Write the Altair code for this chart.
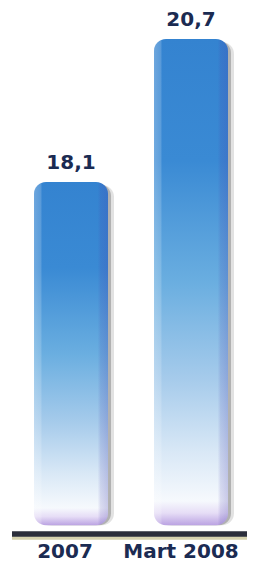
import altair as alt
import pandas as pd

categories = ["2007", "Mart 2008"]
values = [18.1, 20.7]
value_labels = ["18,1", "20,7"]

H = 556
W = 239
AXIS_MAX = 21.264
AXIS_MIN = 20.7 - (H - 31) / 55.0
BAR_BASE = 11.86

df = pd.DataFrame({"cat": categories, "val": values, "lbl": value_labels})

xscale = alt.Scale(domain=categories, paddingInner=0.3833, paddingOuter=0.1875, align=0.578)
yscale = alt.Scale(domain=[AXIS_MIN, AXIS_MAX], zero=False, nice=False)

X = alt.X("cat:N", scale=xscale, axis=None, sort=categories)
Y = alt.Y("val:Q", scale=yscale, axis=None, stack=None)
Y2 = alt.Y2(datum=BAR_BASE)

base = alt.Chart(df)

shadow1 = base.mark_bar(cornerRadius=12, color="#333333", opacity=0.14, xOffset=6, yOffset=3).encode(
    x=X, y=Y, y2=Y2)
shadow2 = base.mark_bar(cornerRadius=12, color="#333333", opacity=0.28, xOffset=3, yOffset=2).encode(
    x=X, y=Y, y2=Y2)

grad = alt.Gradient(
    gradient="linear", x1=0, x2=0, y1=0, y2=1,
    stops=[
        alt.GradientStop(offset=0, color="#3483d0"),
        alt.GradientStop(offset=0.25, color="#3a8ad4"),
        alt.GradientStop(offset=0.5, color="#6aaee0"),
        alt.GradientStop(offset=0.7, color="#a6cbeb"),
        alt.GradientStop(offset=0.85, color="#d9e8f6"),
        alt.GradientStop(offset=0.95, color="#f6f9fd"),
        alt.GradientStop(offset=0.975, color="#e6ddf6"),
        alt.GradientStop(offset=1, color="#bba3e2"),
    ],
)
bars = base.mark_bar(cornerRadius=12, color=grad).encode(x=X, y=Y, y2=Y2)

hgrad = alt.Gradient(
    gradient="linear", x1=0, x2=1, y1=0, y2=0,
    stops=[
        alt.GradientStop(offset=0, color="rgba(255,255,255,0.28)"),
        alt.GradientStop(offset=0.09, color="rgba(255,255,255,0.18)"),
        alt.GradientStop(offset=0.11, color="rgba(255,255,255,0.0)"),
        alt.GradientStop(offset=0.86, color="rgba(70,60,170,0.0)"),
        alt.GradientStop(offset=0.9, color="rgba(70,60,170,0.15)"),
        alt.GradientStop(offset=1, color="rgba(70,60,170,0.25)"),
    ],
)
sheen = base.mark_bar(cornerRadius=12, color=hgrad).encode(x=X, y=Y, y2=Y2)

vlabels = base.mark_text(font="DejaVu Sans", fontWeight="bold", fontSize=20, color="#1b2b52",
                         baseline="alphabetic", dy=-13).encode(x=X, y=Y, text="lbl:N")

rule_light = base.mark_rule(color="#d6d2ae", strokeWidth=3).encode(
    x=alt.value(4), x2=alt.value(W), y=alt.value(530))
rule_dark = base.mark_rule(color="#2b2e3b", strokeWidth=5).encode(
    x=alt.value(4), x2=alt.value(W), y=alt.value(526))

lab1 = base.transform_filter(alt.datum.cat == "2007").mark_text(
    font="DejaVu Sans", fontWeight="bold", fontSize=20, color="#1b2b52", dx=-6,
    baseline="alphabetic").encode(x=X, y=alt.value(550), text="cat:N")
lab2 = base.transform_filter(alt.datum.cat == "Mart 2008").mark_text(
    font="DejaVu Sans", fontWeight="bold", fontSize=20, color="#1b2b52", dx=-10,
    baseline="alphabetic").encode(x=X, y=alt.value(550), text="cat:N")

chart = alt.layer(shadow1, shadow2, bars, sheen, vlabels, rule_light, rule_dark, lab1, lab2).properties(
    width=W, height=H, padding=0, autosize=alt.AutoSizeParams(type="none")
).configure_view(stroke=None)

chart.save("out.html", embed_options={"renderer": "svg", "actions": False})
